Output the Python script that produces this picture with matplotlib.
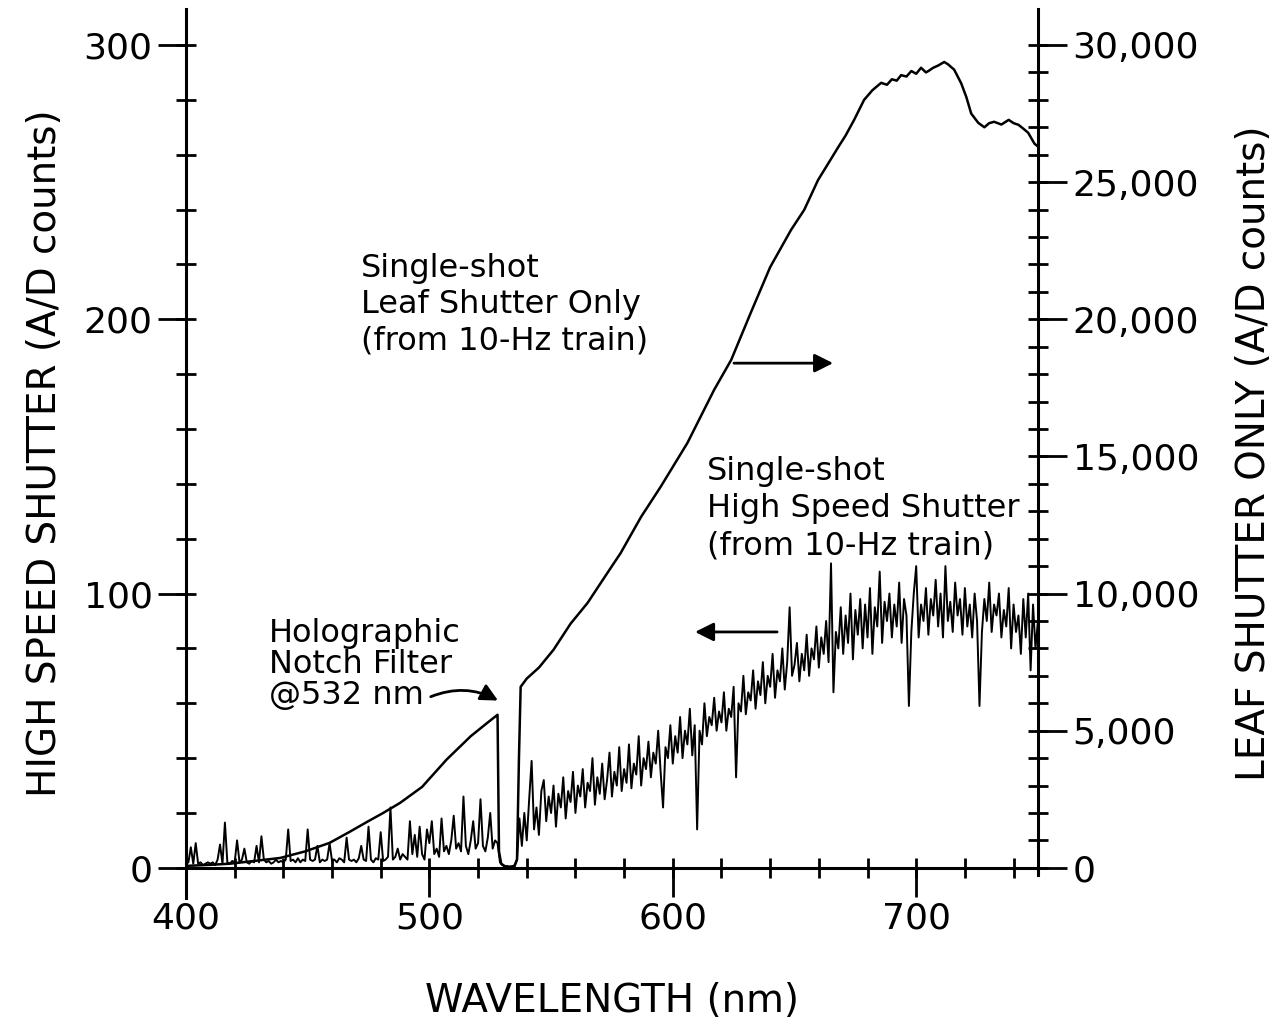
"""Spectrum plot: single-shot leaf shutter vs high speed shutter

Two y axes share one wavelength axis. The left axis holds the
high speed shutter trace, the right one the leaf shutter trace.
"""

import matplotlib.pyplot as plt
from matplotlib.ticker import FixedLocator, FuncFormatter

### DATA ####
# leaf shutter only (right axis, A/D counts)
leaf_nm = [400, 410, 418, 428, 438.7, 449, 459, 467, 474.5, 481, 488, 497, 507, 517, 524, 528,
           528.6, 529.5, 531, 533, 535, 536, 536.8, 537.5, 540, 545, 551, 558, 565, 572, 578.6,
           587, 595, 606, 617, 624, 632, 640, 648.6, 654, 659.7, 664, 668, 671, 674.5, 678.6,
           682, 685.6, 688, 690, 692, 693.8, 696, 698, 700, 702, 704, 705, 707, 709, 711.5, 713,
           715.6, 718.5, 720.6, 722.6, 725.5, 728, 730, 732, 735, 738, 740, 742, 744, 746, 748.6, 750]
leaf_counts = [70, 110, 150, 250, 360, 600, 910, 1300, 1680, 2000, 2370, 2950, 3940, 4800, 5300, 5580,
               600, 150, 60, 40, 60, 300, 4000, 6600, 6900, 7300, 7950, 8900, 9660, 10600, 11480,
               12800, 13890, 15490, 17430, 18520, 20230, 21900, 23260, 23990, 25080, 25700, 26280, 26700, 27270, 28000,
               28350, 28620, 28550, 28750, 28700, 28900, 28850, 29050, 28950, 29170, 29000, 29050, 29170, 29250, 29380, 29300,
               29100, 28600, 28100, 27500, 27160, 27000, 27150, 27200, 27100, 27270, 27150, 27090, 26950, 26800, 26400, 26300]

# high speed shutter (left axis, A/D counts), one value per nm from 400 to 750
hs_start_nm = 400
hs_counts = [
    1.5, 2, 7.5, 1.5, 9, 1.5, 2, 1, 1.5, 2,
    1.5, 2, 1, 3, 8.5, 1.5, 16.5, 2, 1.5, 2.5,
    2, 10, 2, 3, 7, 2, 1.5, 2.5, 2, 8,
    2, 11.5, 3, 2, 2.5, 1.5, 2, 3, 2, 2.5,
    2, 3, 14, 2.5, 3, 2, 3.5, 2, 3, 2.5,
    14, 3, 2.5, 3, 8, 2, 3, 2.5, 3, 9,
    2.5, 3, 2, 3.5, 3, 2, 11, 3, 2.5, 3,
    2, 3.5, 8, 3, 2.5, 15, 3, 2, 3.5, 3,
    13, 2.5, 3, 4, 22, 3, 4, 7, 3, 5,
    4, 3, 17, 5, 12, 4, 15, 5, 3, 14,
    9, 17, 5, 7, 4, 18, 6, 8, 5, 10,
    19, 7, 9, 6, 26, 8, 5, 10, 17, 7,
    9, 25, 8, 6, 11, 20, 7, 10, 9, 2,
    1, 0.5, 0.5, 0.3, 0.5, 1, 3, 18, 8, 20,
    10, 25, 39, 14, 22, 12, 28, 32, 17, 26,
    20, 30, 15, 27, 22, 33, 18, 28, 24, 35,
    20, 30, 26, 36, 22, 31, 28, 40, 23, 33,
    27, 38, 25, 32, 42, 26, 35, 30, 44, 28,
    36, 31, 45, 29, 38, 34, 48, 30, 40, 36,
    46, 33, 42, 38, 50, 35, 22, 44, 40, 52,
    38, 48, 42, 55, 40, 50, 45, 58, 41, 52,
    14, 50, 45, 60, 48, 55, 52, 62, 50, 57,
    53, 64, 50, 58, 55, 66, 33, 60, 57, 70,
    56, 64, 61, 72, 58, 68, 63, 75, 60, 70,
    66, 78, 62, 72, 68, 80, 65, 75, 95, 70,
    74, 82, 68, 78, 72, 85, 70, 80, 76, 88,
    73, 84, 78, 90, 75, 111, 64, 86, 80, 95,
    78, 92, 82, 100, 76, 94, 85, 98, 80, 96,
    84, 102, 78, 95, 88, 108, 82, 97, 90, 100,
    84, 96, 88, 104, 82, 98, 92, 59, 86, 100,
    110, 84, 96, 90, 102, 85, 98, 92, 105, 88,
    100, 84, 110, 90, 97, 86, 104, 92, 98, 85,
    102, 88, 96, 84, 100, 90, 59, 86, 98, 90,
    104, 86, 96, 92, 100, 84, 94, 88, 102, 80,
    96, 86, 92, 78, 98, 84, 100, 72, 96, 80,
    90,
]
hs_nm = [hs_start_nm + i for i in range(len(hs_counts))]

x_ticks = [400, 500, 600, 700]
x_minor = list(range(400, 741, 20))
left_ticks = [0, 100, 200, 300]
left_minor = list(range(0, 301, 20))
right_ticks = [0, 5000, 10000, 15000, 20000, 25000, 30000]
right_minor = list(range(0, 30001, 1000))
##############

plt.rcParams['font.family'] = ['DejaVu Sans']
FS_TICK = 26
FS_LABEL = 28
FS_NOTE = 23


def style_axis(axis, major_len):
    """Long outward major ticks plus short crossing minor ticks (also at majors)"""
    axis.remove_overlapping_locs = False
    axis.set_tick_params(which='major', direction='out', length=major_len, width=2, labelsize=FS_TICK)
    axis.set_tick_params(which='minor', direction='inout', length=14, width=2)


fig = plt.figure(figsize=(12.79, 10.25), dpi=100)
ax = fig.add_axes([0.1454, 0.1239, 0.6661, 0.8670])
ax2 = ax.twinx()

ax.plot(hs_nm, hs_counts, color='black', lw=1.4)
ax2.plot(leaf_nm, leaf_counts, color='black', lw=1.8)

ax.set_xlim(400, 750)
ax.set_ylim(-11, 313)
ax2.set_ylim(-1100, 31300)

for side in ['top', 'right']:
    ax.spines[side].set_visible(False)
for side in ['top', 'left', 'bottom']:
    ax2.spines[side].set_visible(False)
ax.spines['bottom'].set_position(('data', 0))
ax2.spines['right'].set_bounds(-250, 31300)
for sp in [ax.spines['left'], ax.spines['bottom'], ax2.spines['right']]:
    sp.set_linewidth(2.2)

ax.set_xticks(x_ticks)
ax.xaxis.set_minor_locator(FixedLocator(x_minor))
ax.set_yticks(left_ticks)
ax.yaxis.set_minor_locator(FixedLocator(left_minor))
ax2.set_yticks(right_ticks)
ax2.yaxis.set_minor_locator(FixedLocator(right_minor))
ax2.yaxis.set_major_formatter(FuncFormatter(lambda v, p: f"{int(v):,}"))

style_axis(ax.xaxis, 21)
style_axis(ax.yaxis, 20)
style_axis(ax2.yaxis, 21)
ax.tick_params(axis='x', which='major', pad=3)
ax.tick_params(axis='y', which='major', pad=4)
ax2.tick_params(axis='y', which='major', pad=4)

ax.set_xlabel('WAVELENGTH (nm)', fontsize=FS_LABEL, labelpad=34)
ax.set_ylabel('HIGH SPEED SHUTTER (A/D counts)', fontsize=FS_LABEL, labelpad=14)
ax2.set_ylabel('LEAF SHUTTER ONLY (A/D counts)', fontsize=FS_LABEL, rotation=90, labelpad=26)

# annotations, placed in left-axis units
ax.text(472, 224, 'Single-shot\nLeaf Shutter Only\n(from 10-Hz train)',
        fontsize=FS_NOTE, va='top', ha='left', linespacing=1.2)
ax.annotate('', xy=(667, 184), xytext=(624, 184),
            arrowprops=dict(arrowstyle='-|>', lw=2, color='black', mutation_scale=28))

ax.text(614, 150, 'Single-shot\nHigh Speed Shutter\n(from 10-Hz train)',
        fontsize=FS_NOTE, va='top', ha='left', linespacing=1.25)
ax.annotate('', xy=(608, 86), xytext=(644, 86),
            arrowprops=dict(arrowstyle='-|>', lw=2, color='black', mutation_scale=28))

ax.text(434, 91, 'Holographic\nNotch Filter\n@532 nm',
        fontsize=FS_NOTE, va='top', ha='left', linespacing=1.0)
ax.annotate('', xy=(529.2, 60.5), xytext=(499.5, 62),
            arrowprops=dict(arrowstyle='-|>', lw=2, color='black', mutation_scale=26,
                            connectionstyle='arc3,rad=-0.25'))

fig.savefig('out.png', dpi=100)
